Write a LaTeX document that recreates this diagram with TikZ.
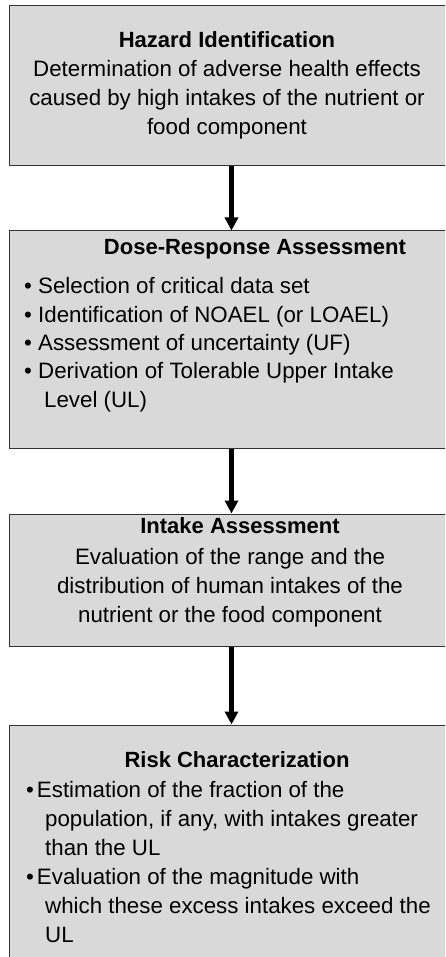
\documentclass[tikz,border=0pt]{standalone}
\usepackage{fontspec}
\setmainfont{Liberation Sans}
\usetikzlibrary{arrows.meta}
\tikzstyle{stagebox}=[draw=black!80, line width=1pt, fill=black!15, minimum width=445pt, inner sep=0pt]
\tikzstyle{stagetxt}=[inner sep=0pt, font=\fontsize{22.3}{29}\selectfont]
\tikzstyle{stagettl}=[inner sep=0pt, anchor=base, font=\fontsize{22}{29}\selectfont\bfseries]
\tikzstyle{flowarrow}=[line width=4.5pt, -{Triangle[width=13pt,length=13pt]}]

\begin{document}
\begin{tikzpicture}[x=1pt,y=-1pt]
	\useasboundingbox (0,0) rectangle (445,957);
	\clip (0,0) rectangle (445,957);
	% the four stages
	\node[stagebox, minimum height=160pt] (hz) at (231.5,86) {};
	\node[stagebox, minimum height=217pt] (dr) at (231.5,339.5) {};
	\node[stagebox, minimum height=132pt] (ia) at (231.5,580) {};
	\node[stagebox, minimum height=245pt] (rc) at (231.5,847.5) {};
	\draw[flowarrow] (hz) -- (dr);
	\draw[flowarrow] (dr) -- (ia);
	\draw[flowarrow] (ia) -- (rc);
	% texts (base of a block = its last line)
	\node[stagettl] (hzt) at (227,47.5) {Hazard Identification};
	\node[stagetxt, anchor=base, align=center] (hzb) at (227,135) {Determination of adverse health effects\\caused by high intakes of the nutrient or\\food component};
	\node[stagettl] (drt) at (255,255) {Dose-Response Assessment};
	\node[stagetxt, anchor=base west, align=left, font=\fontsize{22.3}{28.3}\selectfont] (drb) at (24,407) {\textbullet\ Selection of critical data set\\\textbullet\ Identification of NOAEL (or LOAEL)\\\textbullet\ Assessment of uncertainty (UF)\\\textbullet\ Derivation of Tolerable Upper Intake\\\hspace{20pt}Level (UL)};
	\node[stagettl] (iat) at (240,533) {Intake Assessment};
	\node[stagetxt, anchor=base, align=center] (iab) at (230,622) {Evaluation of the range and the\\distribution of human intakes of the\\nutrient or the food component};
	\node[stagettl] (rct) at (237,767) {Risk Characterization};
	\node[stagetxt, anchor=base west, align=left] (rcb) at (26,942) {\textbullet\hspace{3pt}Estimation of the fraction of the\\\hspace{19pt}population, if any, with intakes greater\\\hspace{19pt}than the UL\\\textbullet\hspace{3pt}Evaluation of the magnitude with\\\hspace{19pt}which these excess intakes exceed the\\\hspace{19pt}UL};
\end{tikzpicture}
\end{document}
